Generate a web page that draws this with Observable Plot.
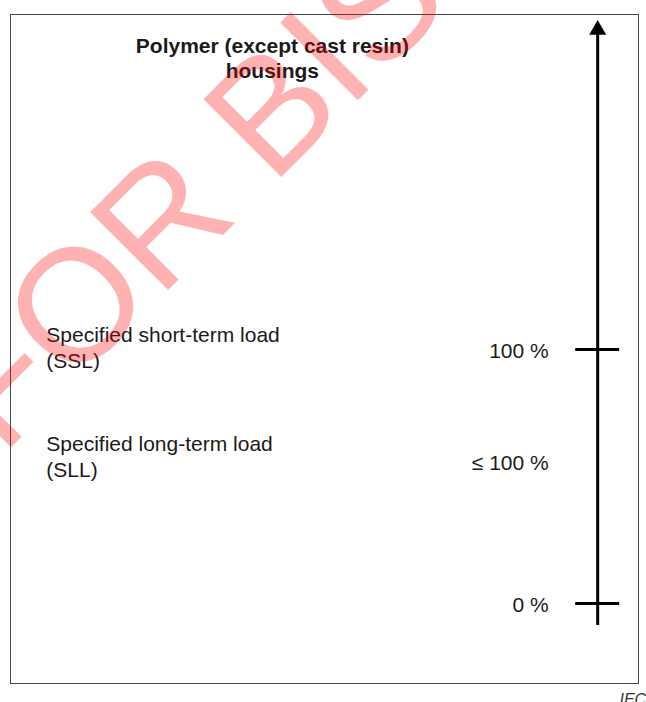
<!DOCTYPE html>
<html><head><meta charset="utf-8">
<script src="https://cdn.jsdelivr.net/npm/d3@7"></script>
<script src="https://cdn.jsdelivr.net/npm/@observablehq/plot@0.6"></script>
<style>html,body{margin:0;padding:0;background:#fff;}</style>
</head><body><div id="chart"></div>
<script>
// ---- data ----
const titleText = "Polymer (except cast resin)\nhousings";
const loadLabels = ["Specified short-term load\n(SSL)", "Specified long-term load\n(SLL)"];
const loadLevels = [101, 58.2];
const valueLabels = ["100 %", "≤ 100 %", "0 %"];
const valueLevels = [100, 55.8, 0];
const tickLevels = [100, 0];
const axisExtent = [-8.7, 225.9];
const watermarkText = "FOR BIS USE ONLY";
const sourceText = "IEC";

const font = '"Liberation Sans", Arial, sans-serif';
const loads = loadLabels.map((label, i) => ({label, level: loadLevels[i]}));
const values = valueLabels.map((label, i) => ({label, level: valueLevels[i]}));

// horizontal placement (relative 0–100 across the frame)
const X_LABEL = 5.7, X_TITLE = 41.7, X_VALUE = 85.7, X_AXIS = 93.5, X_TICK = [90, 97];

const chart = Plot.plot({
  width: 646, height: 702,
  marginTop: 14, marginBottom: 19, marginLeft: 10, marginRight: 8,
  x: {domain: [0, 100], axis: null},
  y: {domain: [-31.5, 231.9], axis: null},
  style: {fontFamily: font, background: "white"},
  marks: [
    Plot.frame({stroke: "#444", strokeWidth: 1}),
    Plot.ruleX([X_AXIS], {y1: axisExtent[0], y2: axisExtent[1], stroke: "black", strokeWidth: 3}),
    Plot.dot([axisExtent[1]], {x: X_AXIS, y: d => d, symbol: "triangle", r: 6.3, fill: "black", stroke: null}),
    Plot.ruleY(tickLevels, {x1: X_TICK[0], x2: X_TICK[1], stroke: "black", strokeWidth: 3}),
    Plot.text(values, {x: X_VALUE, y: "level", text: "label", textAnchor: "end", fontSize: 21, dy: 1.5, fill: "#1a1a1a"}),
    Plot.text(loads, {x: X_LABEL, y: "level", text: "label", textAnchor: "start", fontSize: 21, lineHeight: 1.22, fill: "#1a1a1a"}),
    Plot.text([titleText], {x: X_TITLE, y: 215.0, text: d => d, fontWeight: "bold", fontSize: 21, lineHeight: 1.18, fill: "#1a1a1a"}),
    Plot.text([sourceText], {frameAnchor: "bottom-right", text: d => d, dx: -19, dy: 21, textAnchor: "start", lineAnchor: "bottom", fontStyle: "italic", fontSize: 16, fill: "#333"}),
    Plot.text([watermarkText], {x: -1.4, y: 57.9, text: d => d, rotate: -45, textAnchor: "start", lineAnchor: "bottom", fontSize: 160, fill: "red", fillOpacity: 0.3})
  ]
});
document.getElementById("chart").append(chart);
</script>
</body></html>
